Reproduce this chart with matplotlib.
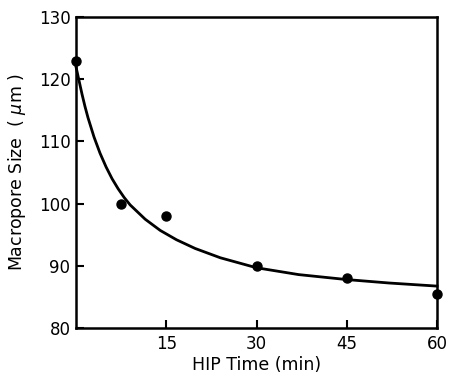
import matplotlib.pyplot as plt

# measured points
hip_time = [0, 7.5, 15, 30, 45, 60]
pore_size = [123, 100, 98, 90, 88, 85.5]

# fitted curve
curve_x = [0, 0.5, 1, 1.5, 2, 3, 4, 5, 6, 7, 8, 9, 11.5, 14, 16.7, 19.8, 24, 30, 37, 45, 52, 60]
curve_y = [122, 119.8, 117.6, 115.6, 113.8, 110.7, 108.1, 105.9, 104.0, 102.4, 101.0, 99.8,
           97.5, 95.7, 94.2, 92.8, 91.3, 89.7, 88.6, 87.8, 87.25, 86.75]

x_ticks = [15, 30, 45, 60]
y_ticks = [80, 90, 100, 110, 120, 130]

plt.rcParams['font.family'] = ['DejaVu Sans']

fig = plt.figure(figsize=(4.51, 3.78), dpi=100)
ax = fig.add_axes([0.1685, 0.132, 0.8005, 0.823])

ax.plot(curve_x, curve_y, color="black", lw=2.0, clip_on=False)
ax.plot(hip_time, pore_size, marker="o", ls="", color="black", markersize=6.5, clip_on=False, zorder=5)

ax.set_xlim(0, 60)
ax.set_ylim(80, 130)
ax.set_xticks(x_ticks)
ax.set_yticks(y_ticks)
ax.tick_params(direction="in", length=6, width=1.5, labelsize=12)
ax.tick_params(axis="y", pad=4)
ax.tick_params(axis="x", pad=5)
for s in ax.spines.values():
    s.set_linewidth(1.8)

ax.set_xlabel("HIP Time (min)", fontsize=12.5, labelpad=2)
ax.set_ylabel("Macropore Size  ( $\\mu$m )", fontsize=12.5, labelpad=8)

fig.savefig("out.png", dpi=100)
